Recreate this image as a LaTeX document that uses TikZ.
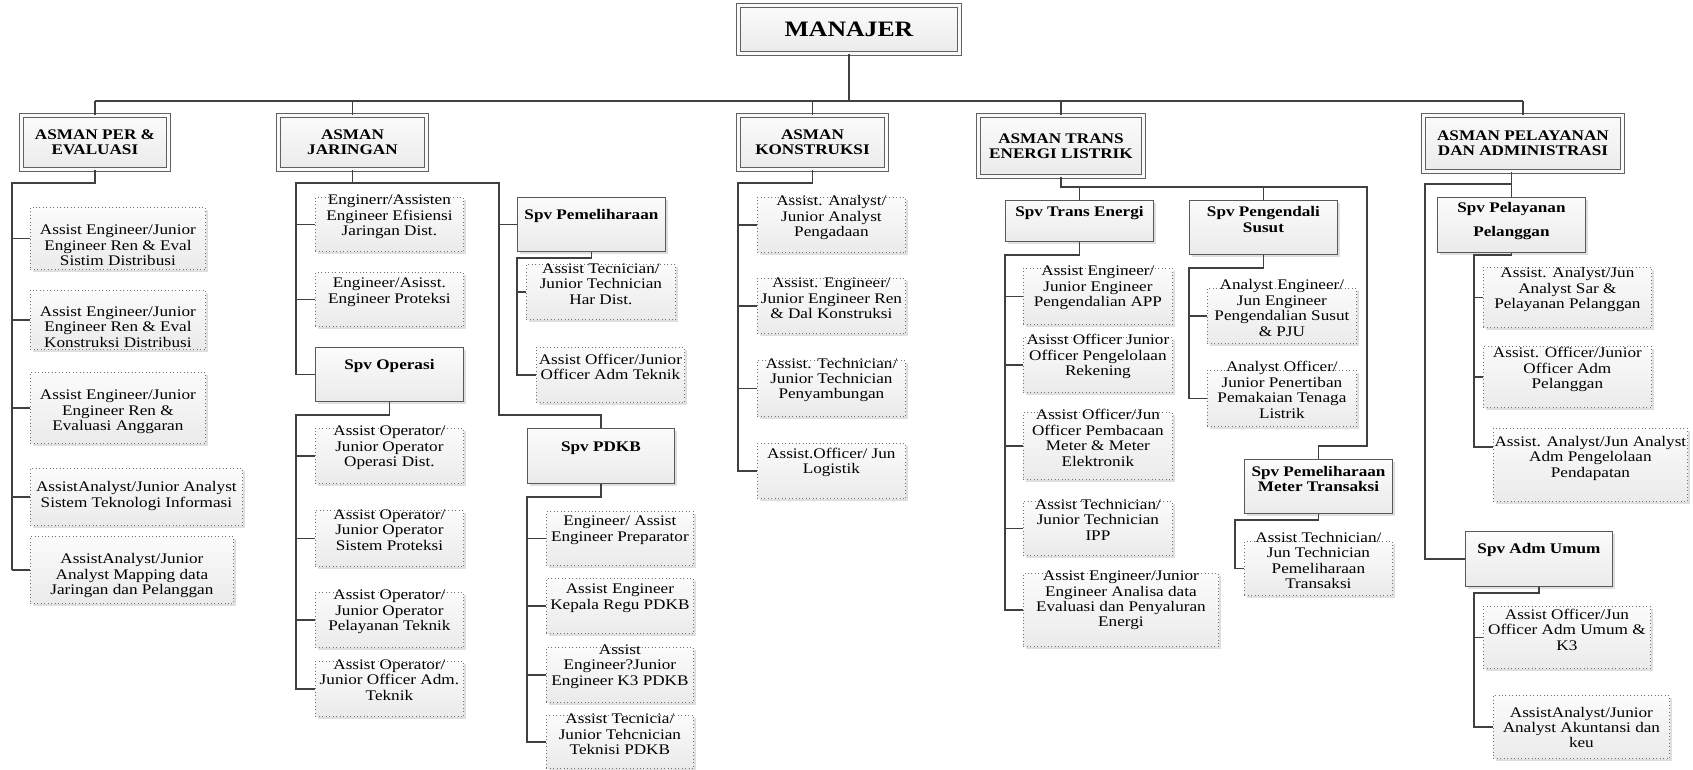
\documentclass[tikz,border=0pt]{standalone}
\usepackage{fontspec}
\setmainfont{Liberation Serif}[FakeStretch=1.17]
\usetikzlibrary{shadows,calc}
\newcommand{\itmfont}{\fontsize{11}{11.6}\selectfont}
\tikzset{
  orgbox/.style 2 args={rectangle, anchor=north west, inner sep=0pt,
    minimum width=#1*0.75pt, minimum height=#2*0.75pt,
    top color=gray!3, bottom color=gray!16,
    drop shadow={shadow xshift=1.6pt, shadow yshift=-1.6pt, opacity=0.25}},
  hd/.style 2 args={orgbox={#1}{#2}, draw=black!62, line width=0.7pt,
    double=gray!4, double distance=2.2pt, align=center, font=\itmfont\bfseries},
  spv/.style 2 args={orgbox={#1}{#2}, draw=black!65, line width=0.7pt},
  itm/.style 2 args={orgbox={#1}{#2}, draw=black!55, line width=0.6pt, dotted},
  txt/.style={anchor=center, align=center, inner sep=0pt, yshift=-#1*0.75pt},
  txt/.default=20,
  btx/.style={txt=#1, font=\itmfont\bfseries},
  btx/.default=20,
  trunk/.style={draw=black!75, line width=1.3pt},
  stub/.style={draw=black!75, line width=0.9pt},
}
\begin{document}
\begin{tikzpicture}[x=0.75pt, y=-0.75pt, font=\itmfont]
\useasboundingbox (0,0) rectangle (1693,769);
% heads
\node[hd={221}{48}, font=\fontsize{16.5}{18}\selectfont\bfseries] (mgr) at (738,5) {MANAJER};
\node[hd={147}{54}] (per) at (21,115) {ASMAN PER \&\\EVALUASI};
\node[hd={148}{54}] (jar) at (278,115) {ASMAN\\JARINGAN};
\node[hd={148}{54}] (kon) at (738,115) {ASMAN\\KONSTRUKSI};
\node[hd={165}{61}] (trs) at (978,115) {ASMAN TRANS\\ENERGI LISTRIK};
\node[hd={199}{56}] (pel) at (1423,115) {ASMAN PELAYANAN\\DAN ADMINISTRASI};
% perencanaan & evaluasi
\node[itm={175}{62}, label={[txt=38.5]north:{Assist Engineer/Junior\\Engineer Ren \& Eval\\Sistim Distribusi}}] (p1) at (30,207) {};
\node[itm={175}{59}, label={[txt=37]north:{Assist Engineer/Junior\\Engineer Ren \& Eval\\Konstruksi Distribusi}}] (p2) at (30,290) {};
\node[itm={175}{71}, label={[txt=40]north:{Assist Engineer/Junior\\Engineer Ren \&\\Evaluasi Anggaran}}] (p3) at (30,372) {};
\node[itm={212}{57}, label={[txt=28]north:{AssistAnalyst/Junior Analyst\\Sistem Teknologi Informasi}}] (p4) at (30,468) {};
\node[itm={203}{67}, label={[txt=39.5]north:{AssistAnalyst/Junior\\Analyst Mapping data\\Jaringan dan Pelanggan}}] (p5) at (30,536) {};
% jaringan
\node[itm={148}{54}, label={[txt]north:{Enginerr/Assisten\\Engineer Efisiensi\\Jaringan Dist.}}] (j1) at (315,197) {};
\node[itm={148}{54}, label={[txt]north:{Engineer/Asisst.\\Engineer Proteksi}}] (j2) at (315,272) {};
\node[spv={148}{54}, label={[btx=19]north:{Spv Operasi}}] (spvop) at (315,347) {};
\node[itm={148}{55}, label={[txt]north:{Assist Operator/\\Junior Operator\\Operasi Dist.}}] (o1) at (315,428) {};
\node[itm={148}{56}, label={[txt]north:{Assist Operator/\\Junior Operator\\Sistem Proteksi}}] (o2) at (315,510) {};
\node[itm={148}{55}, label={[txt]north:{Assist Operator/\\Junior Operator\\Pelayanan Teknik}}] (o3) at (315,592) {};
\node[itm={148}{55}, label={[txt=19]north:{Assist Operator/\\Junior Officer Adm.\\Teknik}}] (o4) at (315,661) {};
\node[spv={148}{54}, label={[btx=19]north:{Spv Pemeliharaan}}] (spvhar) at (517,197) {};
\node[itm={149}{55}, label={[txt]north:{Assist Tecnician/\\Junior Technician\\Har Dist.}}] (h1) at (526,264) {};
\node[itm={148}{55}, label={[txt]north:{Assist Officer/Junior\\Officer Adm Teknik}}] (h2) at (536,347) {};
\node[spv={147}{55}, label={[btx]north:{Spv PDKB}}] (spvpdkb) at (527,428) {};
\node[itm={147}{54}, label={[txt=19]north:{Engineer/ Assist\\Engineer Preparator}}] (d1) at (546,511) {};
\node[itm={147}{55}, label={[txt]north:{Assist Engineer\\Kepala Regu PDKB}}] (d2) at (546,578) {};
\node[itm={147}{55}, label={[txt=19.5]north:{Assist\\Engineer?Junior\\Engineer K3 PDKB}}] (d3) at (546,647) {};
\node[itm={147}{53}, label={[txt=19.5]north:{Assist Tecnicia/\\Junior Tehcnician\\Teknisi PDKB}}] (d4) at (546,715) {};
% konstruksi
\node[itm={148}{55}, label={[txt=20.5]north:{Assist. Analyst/\\Junior Analyst\\Pengadaan}}] (k1) at (757,197) {};
\node[itm={148}{55}, label={[txt=20.5]north:{Assist. Engineer/\\Junior Engineer Ren\\\& Dal Konstruksi}}] (k2) at (757,278) {};
\node[itm={148}{56}, label={[txt]north:{Assist. Technician/\\Junior Technician\\Penyambungan}}] (k3) at (757,360) {};
\node[itm={148}{55}, label={[txt=19.5]north:{Assist.Officer/ Jun\\Logistik}}] (k4) at (757,443) {};
% trans energi listrik
\node[spv={148}{41}, label={[btx=13]north:{Spv Trans Energi}}] (spvte) at (1005,200) {};
\node[spv={148}{54}, label={[btx=19.5]north:{Spv Pengendali\\Susut}}] (spvps) at (1189,200) {};
\node[itm={149}{56}, label={[txt]north:{Assist Engineer/\\Junior Engineer\\Pengendalian APP}}] (t1) at (1023,268) {};
\node[itm={149}{55}, label={[txt=19.5]north:{Asisst Officer Junior\\Officer Pengelolaan\\Rekening}}] (t2) at (1023,337) {};
\node[itm={149}{67}, label={[txt=26]north:{Assist Officer/Jun\\Officer Pembacaan\\Meter \& Meter\\Elektronik}}] (t3) at (1023,412) {};
\node[itm={149}{54}, label={[txt=18.5]north:{Assist Technician/\\Junior Technician\\IPP}}] (t4) at (1023,501) {};
\node[itm={195}{73}, label={[txt=27.5]north:{Assist Engineer/Junior\\Engineer Analisa data\\Evaluasi dan Penyaluran\\Energi}}] (t5) at (1023,573) {};
\node[itm={149}{55}, label={[txt]north:{Analyst Engineer/\\Jun Engineer\\Pengendalian Susut\\\& PJU}}] (s1) at (1207,288) {};
\node[itm={149}{56}, label={[txt]north:{Analyst Officer/\\Junior Penertiban\\Pemakaian Tenaga\\Listrik}}] (s2) at (1207,370) {};
\node[spv={148}{54}, label={[btx]north:{Spv Pemeliharaan\\Meter Transaksi}}] (spvmtr) at (1244,459) {};
\node[itm={148}{54}, label={[txt=19.5]north:{Assist Technician/\\Jun Technician\\Pemeliharaan\\Transaksi}}] (m1) at (1244,541) {};
% pelayanan dan administrasi
\node[spv={148}{55}, label={[btx=24]north:{Spv Pelayanan\\[6pt]Pelanggan}}] (spvpl) at (1437,197) {};
\node[itm={168}{60}, label={[txt=22.5]north:{Assist. Analyst/Jun\\Analyst Sar \&\\Pelayanan Pelanggan}}] (l1) at (1483,267) {};
\node[itm={168}{61}, label={[txt=23.5]north:{Assist. Officer/Junior\\Officer Adm\\Pelanggan}}] (l2) at (1483,346) {};
\node[itm={194}{73}, label={[txt=30]north:{Assist. Analyst/Jun Analyst\\Adm Pengelolaan\\Pendapatan}}] (l3) at (1493,428) {};
\node[spv={147}{55}, label={[btx=19]north:{Spv Adm Umum}}] (spvadm) at (1465,531) {};
\node[itm={167}{62}, label={[txt=23.5]north:{Assist Officer/Jun\\Officer Adm Umum \&\\K3}}] (a1) at (1483,606) {};
\node[itm={176}{63}, label={[txt=32.5]north:{AssistAnalyst/Junior\\Analyst Akuntansi dan\\keu}}] (a2) at (1493,695) {};
% bus
\coordinate (busY) at (848,101);
\draw[stub] (per.north |- busY) -- (pel.north |- busY);
\draw[trunk] (mgr.south) -- (mgr.south |- busY);
\foreach \n in {per,jar,kon,trs,pel}
  \draw[stub] (\n.north) -- (\n.north |- busY);
% branches
\coordinate (perT) at (12,183);
\draw[trunk] (per.south) |- (perT) -- (perT |- p5.west);
\foreach \n in {p1,p2,p3,p4,p5}
  \draw[stub] (\n.west) -- (\n.west -| perT);
\coordinate (jarL) at (296,183);
\coordinate (jarR) at (499,183);
\coordinate (jarB) at (499,415);
\draw[trunk] (jar.south) |- (jarL) -- (jarL |- spvop.west) -- (spvop.west);
\draw[trunk] (jar.south) |- (jarR) -- (jarB) -| (spvpdkb.north);
\draw[stub] (spvhar.west) -- (spvhar.west -| jarR);
\foreach \n in {j1,j2}
  \draw[stub] (\n.west) -- (\n.west -| jarL);
\coordinate (opT) at (296,415);
\draw[trunk] (spvop.south) |- (opT) -- (opT |- o4.west) -- (o4.west);
\foreach \n in {o1,o2,o3}
  \draw[stub] (\n.west) -- (\n.west -| opT);
\coordinate (harT) at (517,258);
\draw[trunk] (spvhar.south) |- (harT) -- (harT |- h2.west) -- (h2.west);
\draw[stub] (h1.west) -- (h1.west -| harT);
\coordinate (pdT) at (527,497);
\draw[trunk] (spvpdkb.south) |- (pdT) -- (pdT |- d4.west) -- (d4.west);
\foreach \n in {d1,d2,d3}
  \draw[stub] (\n.west) -- (\n.west -| pdT);
\coordinate (konT) at (738,183);
\draw[trunk] (kon.south) |- (konT) -- (konT |- k4.west) -- (k4.west);
\foreach \n in {k1,k2,k3}
  \draw[stub] (\n.west) -- (\n.west -| konT);
\coordinate (trsR) at (1367,187);
\coordinate (trsB) at (1367,446);
\draw[trunk] (trs.south) |- (trsR) -- (trsB) -| (spvmtr.north);
\draw[stub] (spvte.north) -- (spvte.north |- trsR);
\draw[stub] (spvps.north) -- (spvps.north |- trsR);
\coordinate (teT) at (1005,255);
\draw[trunk] (spvte.south) |- (teT) -- (teT |- t5.west) -- (t5.west);
\foreach \n in {t1,t2,t3,t4}
  \draw[stub] (\n.west) -- (\n.west -| teT);
\coordinate (psT) at (1189,268);
\draw[trunk] (spvps.south) |- (psT) -- (psT |- s2.west) -- (s2.west);
\draw[stub] (s1.west) -- (s1.west -| psT);
\coordinate (mtT) at (1235,520);
\draw[trunk] (spvmtr.south) |- (mtT) -- (mtT |- m1.west) -- (m1.west);
\coordinate (pelT) at (1425,184);
\draw[trunk] (pel.south -| spvpl.north) -- (spvpl.north);
\draw[trunk] (pel.south -| spvpl.north) |- (pelT) -- (pelT |- spvadm.west) -- (spvadm.west);
\coordinate (plT) at (1474,255);
\coordinate (l3w) at ($(l3.north west)!0.26!(l3.south west)$);
\draw[trunk] (spvpl.south) |- (plT) -- (plT |- l3w) -- (l3w);
\foreach \n in {l1,l2}
  \draw[stub] (\n.west) -- (\n.west -| plT);
\coordinate (admT) at (1474,593);
\draw[trunk] (spvadm.south) |- (admT) -- (admT |- a2.west) -- (a2.west);
\draw[stub] (a1.west) -- (a1.west -| admT);
\end{tikzpicture}
\end{document}
